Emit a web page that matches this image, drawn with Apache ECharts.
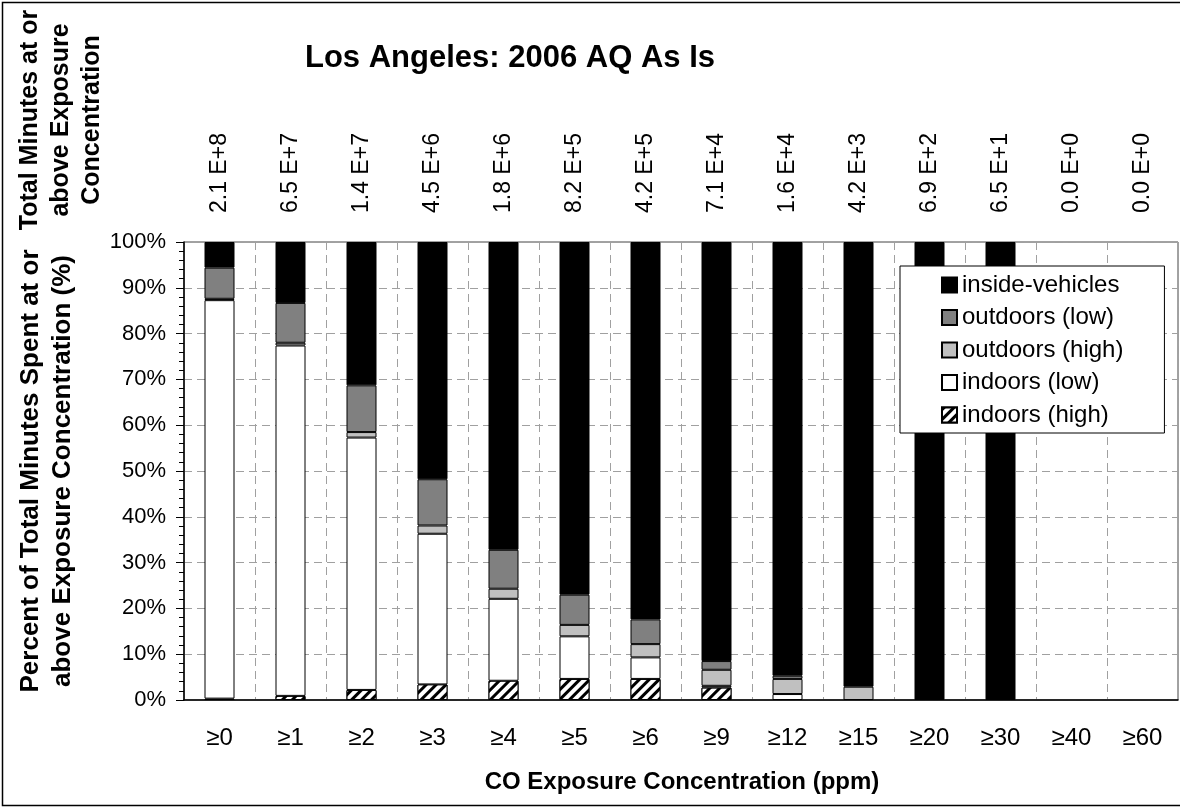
<!DOCTYPE html>
<html>
<head>
<meta charset="utf-8">
<title>Los Angeles: 2006 AQ As Is</title>
<script src="https://cdn.jsdelivr.net/npm/echarts@6/dist/echarts.min.js"></script>
<style>
  html, body { margin: 0; padding: 0; background: #fff; }
  #chart { width: 1180px; height: 807px; }
</style>
</head>
<body>
<div id="chart"></div>
<script>
// CO exposure bins (x axis)
const categories = ['≥0', '≥1', '≥2', '≥3', '≥4', '≥5', '≥6', '≥9', '≥12', '≥15', '≥20', '≥30', '≥40', '≥60'];
// total minutes at or above each concentration (labels on top)
const totalMinutes = ['2.1 E+8', '6.5 E+7', '1.4 E+7', '4.5 E+6', '1.8 E+6', '8.2 E+5', '4.2 E+5',
  '7.1 E+4', '1.6 E+4', '4.2 E+3', '6.9 E+2', '6.5 E+1', '0.0 E+0', '0.0 E+0'];

// percent of minutes by microenvironment (stack order: bottom -> top)
const indoorsHigh    = [0.3, 0.9, 2.2, 3.4, 4.2, 4.6, 4.6, 2.7, 0.0, 0.0, 0, 0, 0, 0];
const indoorsLow     = [87.0, 76.5, 55.1, 32.9, 17.9, 9.3, 4.7, 0.4, 1.3, 0.0, 0, 0, 0, 0];
const outdoorsHigh   = [0.3, 0.6, 1.2, 1.8, 2.2, 2.5, 2.9, 3.5, 3.3, 2.9, 0, 0, 0, 0];
const outdoorsLow    = [6.8, 8.7, 10.2, 10.1, 8.5, 6.6, 5.4, 1.9, 0.7, 0.0, 0, 0, 0, 0];
const insideVehicles = [5.6, 13.3, 31.3, 51.8, 67.2, 77.0, 82.4, 91.5, 94.7, 97.1, 100, 100, 0, 0];

const yTicks = [0, 10, 20, 30, 40, 50, 60, 70, 80, 90, 100];

const FONT = "'Liberation Sans', Arial, Helvetica, sans-serif";
const dashed = { color: '#a0a0a0', width: 1, type: [8, 5] };

const chart = echarts.init(document.getElementById('chart'), null, { renderer: 'canvas' });

function bar(name, data, color, extra) {
  return {
    name: name,
    type: 'bar',
    stack: 'all',
    xAxisIndex: 0,
    barWidth: 30,
    // empty segments are not drawn (no stray border line)
    data: data.map(v => (v === 0 ? '-' : v)),
    itemStyle: Object.assign({ color: color, borderColor: '#000', borderWidth: 1 }, extra || {}),
    emphasis: { disabled: true }
  };
}

chart.setOption({
  animation: false,
  textStyle: { fontFamily: FONT },
  title: {
    text: 'Los Angeles: 2006 AQ As Is',
    left: 300,
    top: 38,
    textStyle: { fontFamily: FONT, fontSize: 31, fontWeight: 'bold', color: '#000' }
  },
  legend: {
    orient: 'vertical',
    left: 900,
    top: 266,
    padding: [7, 41, 6, 41],
    itemWidth: 15,
    itemHeight: 15,
    itemGap: 8.5,
    icon: 'rect',
    borderColor: '#000',
    borderWidth: 1,
    backgroundColor: '#fff',
    selectedMode: false,
    textStyle: { fontFamily: FONT, fontSize: 24, color: '#000' },
    data: ['inside-vehicles', 'outdoors (low)', 'outdoors (high)', 'indoors (low)', 'indoors (high)']
  },
  grid: {
    left: 184,
    right: 2,
    top: 242,
    bottom: 107,
    show: true,
    borderColor: '#444',
    borderWidth: 1,
    backgroundColor: '#fff'
  },
  xAxis: [
    {
      type: 'category',
      data: categories,
      position: 'bottom',
      axisLine: { lineStyle: { color: '#000', width: 1.5 } },
      axisTick: { length: 7, lineStyle: { color: '#000' } },
      axisLabel: { fontFamily: FONT, fontSize: 24, color: '#000', margin: 26 },
      splitLine: { show: true, lineStyle: dashed }
    },
    {
      type: 'category',
      data: totalMinutes,
      position: 'top',
      axisLine: { show: false },
      axisTick: { show: false },
      axisLabel: { fontFamily: FONT, fontSize: 23, color: '#000', rotate: -90, margin: 29 },
      splitLine: { show: false }
    },
    {
      type: 'category',
      data: categories,
      position: 'bottom',
      axisLine: { show: false },
      axisTick: { alignWithLabel: true, length: 4, lineStyle: { color: '#000' } },
      axisLabel: { show: false },
      splitLine: { show: false }
    }
  ],
  yAxis: {
    type: 'value',
    min: yTicks[0],
    max: yTicks[yTicks.length - 1],
    interval: 10,
    axisLine: { show: true, lineStyle: { color: '#000', width: 1.5 } },
    axisTick: { show: true, length: 8, lineStyle: { color: '#000' } },
    minorTick: { show: true, splitNumber: 5, length: 5, lineStyle: { color: '#000' } },
    axisLabel: { fontFamily: FONT, fontSize: 22, color: '#000', margin: 18, formatter: '{value}%' },
    splitLine: { show: true, lineStyle: dashed }
  },
  series: [
    bar('indoors (high)', indoorsHigh, '#fff', {
      decal: {
        symbol: 'rect',
        symbolSize: 1,
        color: '#000',
        backgroundColor: '#fff',
        dashArrayX: [1, 0],
        dashArrayY: [3, 4],
        rotation: -Math.PI / 4
      }
    }),
    bar('indoors (low)', indoorsLow, '#fff'),
    bar('outdoors (high)', outdoorsHigh, '#c0c0c0'),
    bar('outdoors (low)', outdoorsLow, '#808080'),
    bar('inside-vehicles', insideVehicles, '#000')
  ],
  graphic: [
    // outer chart frame
    { type: 'rect', shape: { x: 2.5, y: 2.5, width: 1200, height: 803 }, style: { fill: null, stroke: '#000', lineWidth: 1.5 }, silent: true, z: 100 },
    {
      type: 'text',
      x: 61, y: 120,
      rotation: Math.PI / 2,
      style: {
        text: 'Total Minutes at or\nabove Exposure\nConcentration',
        font: 'bold 25px ' + FONT,
        fill: '#000',
        align: 'center',
        verticalAlign: 'middle',
        lineHeight: 31
      }
    },
    {
      type: 'text',
      x: 47, y: 471,
      rotation: Math.PI / 2,
      style: {
        text: 'Percent of Total Minutes Spent at or\nabove Exposure Concentration (%)',
        font: 'bold 26px ' + FONT,
        fill: '#000',
        align: 'center',
        verticalAlign: 'middle',
        lineHeight: 32
      }
    },
    {
      type: 'text',
      x: 682, y: 782,
      style: {
        text: 'CO Exposure Concentration (ppm)',
        font: 'bold 24px ' + FONT,
        fill: '#000',
        align: 'center',
        verticalAlign: 'middle'
      }
    }
  ]
});

window.addEventListener('resize', () => chart.resize());
</script>
</body>
</html>
